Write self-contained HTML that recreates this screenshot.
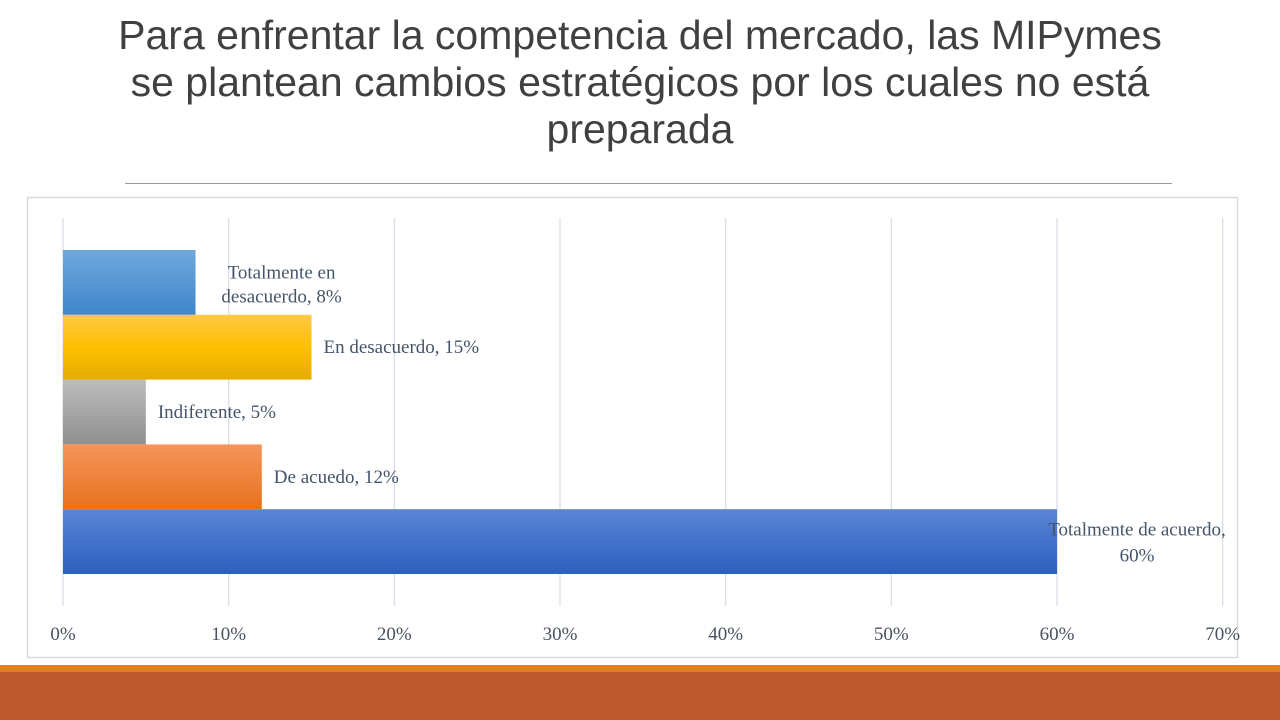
<!DOCTYPE html>
<html><head><meta charset="utf-8"><style>
body{margin:0;width:1280px;height:720px;background:#fff;position:relative;overflow:hidden;font-family:"Liberation Sans",Arial,sans-serif}
#title{position:absolute;left:0;top:12px;width:1280px;text-align:center;font-size:41px;line-height:47px;color:#404040}
</style></head><body>
<div id="title">Para enfrentar la competencia del mercado, las MIPymes<br>se plantean cambios estratégicos por los cuales no está<br>preparada</div>
<div style="position:absolute;left:125px;top:183px;width:1047px;height:1px;background:#999"></div>
<div style="position:absolute;left:0;top:665px;width:1280px;height:7px;background:#e07f1e"></div>
<div style="position:absolute;left:0;top:672px;width:1280px;height:48px;background:#bd592b"></div>
<svg id="chart" width="1280" height="720" style="position:absolute;left:0;top:0">
<defs>
<linearGradient id="g0" x1="0" y1="0" x2="0" y2="1"><stop offset="0" stop-color="#6fa8dc"/><stop offset="1" stop-color="#3f86cc"/></linearGradient>
<linearGradient id="g1" x1="0" y1="0" x2="0" y2="1"><stop offset="0" stop-color="#ffc845"/><stop offset="0.5" stop-color="#ffc000"/><stop offset="1" stop-color="#e5ac00"/></linearGradient>
<linearGradient id="g2" x1="0" y1="0" x2="0" y2="1"><stop offset="0" stop-color="#bdbdbd"/><stop offset="1" stop-color="#8f8f8f"/></linearGradient>
<linearGradient id="g3" x1="0" y1="0" x2="0" y2="1"><stop offset="0" stop-color="#f4955a"/><stop offset="1" stop-color="#e8711e"/></linearGradient>
<linearGradient id="g4" x1="0" y1="0" x2="0" y2="1"><stop offset="0" stop-color="#5a86d6"/><stop offset="1" stop-color="#2e5fbf"/></linearGradient>
</defs>
<rect x="27.5" y="197.5" width="1210" height="460" fill="#fff" stroke="#d9d9d9" stroke-width="1.5"/>
<g id="grid"></g><g id="bars"></g><g id="labels"></g><g id="ticks"></g>
</svg>
<script>
const categories=["Totalmente en desacuerdo","En desacuerdo","Indiferente","De acuedo","Totalmente de acuerdo"];
const values=[8,15,5,12,60];
const tickValues=[0,10,20,30,40,50,60,70];
const tickLabels=["0%","10%","20%","30%","40%","50%","60%","70%"];
const X0=63,PX=16.567,BT=250,BH=64.8;
const xs=v=>X0+v*PX;
const NS="http://www.w3.org/2000/svg";
function mk(t,a,p){const e=document.createElementNS(NS,t);for(const k in a)e.setAttribute(k,a[k]);p.appendChild(e);return e;}
const grid=document.getElementById('grid'),bars=document.getElementById('bars'),labels=document.getElementById('labels'),ticks=document.getElementById('ticks');
tickValues.forEach((v,i)=>{
 const l=mk('line',{x1:xs(v),x2:xs(v),y1:218,y2:606,stroke:'#d9dfe8','stroke-width':1.3},grid);
 
 
 const t=mk('text',{x:xs(v),y:640,'text-anchor':'middle','font-family':'Liberation Serif,serif','font-size':19,fill:'#4a5260'},ticks);
 t.textContent=tickLabels[i];
 
 
});
values.forEach((v,i)=>{
 const y=BT+i*BH;
 const r=mk('rect',{x:X0,y:y,width:xs(v)-X0,height:BH,fill:'url(#g'+i+')'},bars);
 
 
 const txt=categories[i]+', '+v+'%';
 const t=mk('text',{'font-family':'Liberation Serif,serif','font-size':19,fill:'#44546a','text-anchor':'middle'},labels);
 
 
 const cy=y+BH/2;
 if(i===0){
  const cx=xs(v)+86;
  mk('tspan',{x:cx,y:cy-4},t).textContent=categories[i].replace(' desacuerdo','');
  mk('tspan',{x:cx,y:cy+20},t).textContent='desacuerdo, '+v+'%';
 } else if(i===4){
  const cx=xs(v)+80;
  mk('tspan',{x:cx,y:cy-6},t).textContent=categories[i]+',';
  mk('tspan',{x:cx,y:cy+20},t).textContent=v+'%';
 } else {
  t.setAttribute('text-anchor','start');
  t.setAttribute('x',xs(v)+12);t.setAttribute('y',cy+6);
  t.textContent=txt;
 }
});
</script>
</body></html>
